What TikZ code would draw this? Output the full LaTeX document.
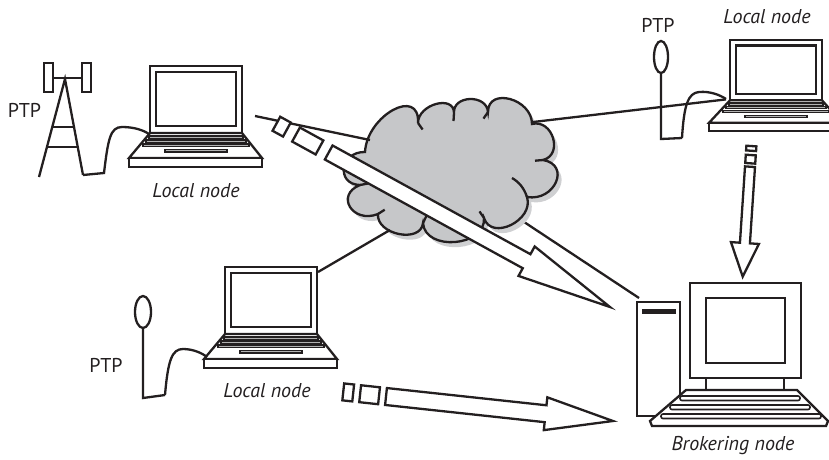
\documentclass[tikz,border=0pt]{standalone}
\usepackage{fontspec}
\setmainfont{PT Sans}
\usetikzlibrary{calc}

\definecolor{ink}{RGB}{35,31,32}
\definecolor{cloudgray}{RGB}{198,199,201}
\definecolor{cloudshade}{RGB}{207,208,210}

\tikzset{
  outline/.style={draw=ink,line width=2.3pt,line join=miter},
  wire/.style={draw=ink,line width=2.3pt},
  keyrow/.style={draw=ink,line width=1.2pt,fill=gray!60},
  caption/.style={font=\fontsize{20}{24}\selectfont\itshape,text=ink,inner sep=0pt},
  tag/.style={font=\fontsize{20}{24}\selectfont,text=ink,inner sep=0pt},
  laptop/.pic={
    % lid
    \draw[outline,fill=white] (0,0) rectangle (92,67);
    \draw[outline] (6,6) rectangle (86,60);
    % keyboard deck
    \draw[outline,fill=white] (0,67) -- (92,67) -- (112,92) -- (-21,92) -- cycle;
    \draw[outline,fill=white] (-21,92) rectangle (112,101);
    \foreach \y/\l/\r in {70/-1/93, 74/-4/96, 78/-7/99}
      \draw[keyrow] (\l,\y) rectangle (\r,\y+2.4);
    \draw[keyrow] (15,83.5) rectangle (77,86);
    \coordinate (-hinge) at (-4,66);
    \coordinate (-corner) at (93,5);
  },
}

% block arrow: origin, angle, shaft length, tip distance, shaft half width,
% head half width, list of tail boxes a/b
\newcommand\flowarrow[7]{%
  \begin{scope}[shift={#1},rotate=#2]
    \draw[outline,fill=white] (0,-#5) -- (#3,-#5) -- (#3,-#6) -- (#4,0)
      -- (#3,#6) -- (#3,#5) -- (0,#5) -- cycle;
    \foreach \p/\q in {#7} {\draw[outline,fill=white] (\p,-#5) rectangle (\q,#5);}
  \end{scope}}

% scalloped outline of the network cloud
\newcommand\cloudoutline{%
  (365,152) .. controls (367,115.3) and (420,86.3) .. (418,123)
  .. controls (418,104.3) and (454,94.3) .. (454,113)
  .. controls (452.7,95) and (486.7,94) .. (488,112)
  .. controls (488,86.7) and (532,98.7) .. (532,124)
  .. controls (552.7,118.7) and (563.7,154.7) .. (543,160)
  .. controls (571,164.7) and (555,201.7) .. (527,197)
  .. controls (534.3,220.3) and (491.3,241.3) .. (484,218)
  .. controls (486,246.7) and (425,251.7) .. (423,223)
  .. controls (421,243.7) and (376,234.7) .. (378,214)
  .. controls (352.7,224) and (334.7,195) .. (360,185)
  .. controls (335.3,184.3) and (340.3,151.3) .. (365,152) -- cycle}

\begin{document}
\begin{tikzpicture}[x=1pt,y=-1pt]
\useasboundingbox (0,0) rectangle (829,459);

% anchor points
\coordinate (cloud-w) at (370,140);
\coordinate (cloud-e) at (533,122);
\coordinate (cloud-s) at (390,230);
\coordinate (cloud-se) at (515,216);
\coordinate (l1-free) at (255,116);
\coordinate (bk-tower) at (639,298);

% link from the cloud to the broker tower (passes behind the cloud)
\draw[wire] (cloud-se) -- (bk-tower);

% cloud
\fill[cloudshade,shift={(4,5)}] \cloudoutline;
\filldraw[fill=cloudgray,draw=ink,line width=2.3pt] \cloudoutline;
\foreach \a/\b in {{(418,123)}/{(422.6,129.5)},{(454,113)}/{(453.5,121)},
    {(488,112)}/{(483.5,118.6)},{(543,160)}/{(535,160.7)},
    {(484,218)}/{(479.5,211.4)},{(423,223)}/{(426.5,215.8)},
    {(378,214)}/{(384.7,209.7)},{(360,185)}/{(368,183.5)}}
  \draw[wire] \a -- \b;
\draw[wire] (527,197) .. controls (524,188) and (519,182) .. (512,178);

% laptops
\pic (l1) at (150,66) {laptop};
\pic[yscale=0.9] (l2) at (730,40) {laptop};
\pic (l3) at (225,267) {laptop};

% links between laptops and the cloud
\draw[wire] (l1-free) -- (cloud-w);
\draw[wire] (cloud-e) -- (l2-hinge);
\draw[wire] (l3-corner) -- (cloud-s);

% lattice mast beside the first laptop
\draw[outline] (44,63) rectangle (53,92);
\draw[outline] (82,63) rectangle (91,92);
\draw[outline] (53,78) -- (82,78);
\draw[outline] (39,177) -- (65,79) -- (83,175);
\draw[outline] (52.4,127) -- (73.9,127);
\draw[outline] (47,147) -- (77.7,147);
\draw[wire] (83,175) -- (104,173) .. controls (108,140) and (110,127) .. (122,127)
  .. controls (134,127) and (143,130) .. (149,134);

% whip antenna, top right
\draw[outline] (661,57) ellipse [x radius=7,y radius=16];
\draw[outline] (661,73) -- (661,139) -- (682,138);
\draw[wire] (682,138) .. controls (684,105) and (688,93) .. (699,92)
  .. controls (710,91) and (720,95) .. (726,99);

% whip antenna, bottom left
\draw[outline] (143,312) ellipse [x radius=8,y radius=16];
\draw[outline] (143,328) -- (143,398) -- (165,395);
\draw[wire] (165,395) .. controls (168,360) and (172,349) .. (183,349)
  .. controls (193,349) and (202,353) .. (207,357);

% brokering workstation
\draw[outline,fill=white] (637,302) rectangle (680,416);
\fill[ink] (642,309) rectangle (676,314);
\draw[outline,fill=white] (690,283) rectangle (801,378);
\draw[outline] (706,298) rectangle (785,363);
\draw[outline] (706,378) -- (706,390) (784,378) -- (784,390);
\draw[outline,fill=white] (686,390) -- (797,390) -- (828,421) -- (826,426)
  -- (652,426) -- (650,421) -- cycle;
\draw[draw=ink,line width=1.6pt,rounded corners=2pt] (680,396) rectangle (800,400.5);
\draw[draw=ink,line width=1.6pt,rounded corners=2pt] (670,405) rectangle (810,409.5);
\draw[draw=ink,line width=1.6pt,rounded corners=2pt] (661,414) rectangle (821,418.5);

% data flows towards the broker
\flowarrow{(328.7,152.5)}{-28.78}{225.8}{320.9}{8}{16.8}{-59.7/-47.7,-37.3/-10.5}
\flowarrow{(386,396.5)}{-6.16}{160.5}{228.3}{8.5}{16.5}{-43/-33,-26/-7}
\flowarrow{(750,166.7)}{-93.8}{76.5}{110.2}{5}{14}{-20.7/-16,-11.7/-3.4}

% labels
\node[tag] (ptp1) at (24.5,110.5) {PTP};
\node[tag] (ptp2) at (658,25) {PTP};
\node[tag] (ptp3) at (106,365.5) {PTP};
\node[caption] (ln1) at (196,191) {Local node};
\node[caption] (ln2) at (767,17) {Local node};
\node[caption] (ln3) at (267,391) {Local node};
\node[caption] (lbk) at (733,446) {Brokering node};
\end{tikzpicture}
\end{document}
